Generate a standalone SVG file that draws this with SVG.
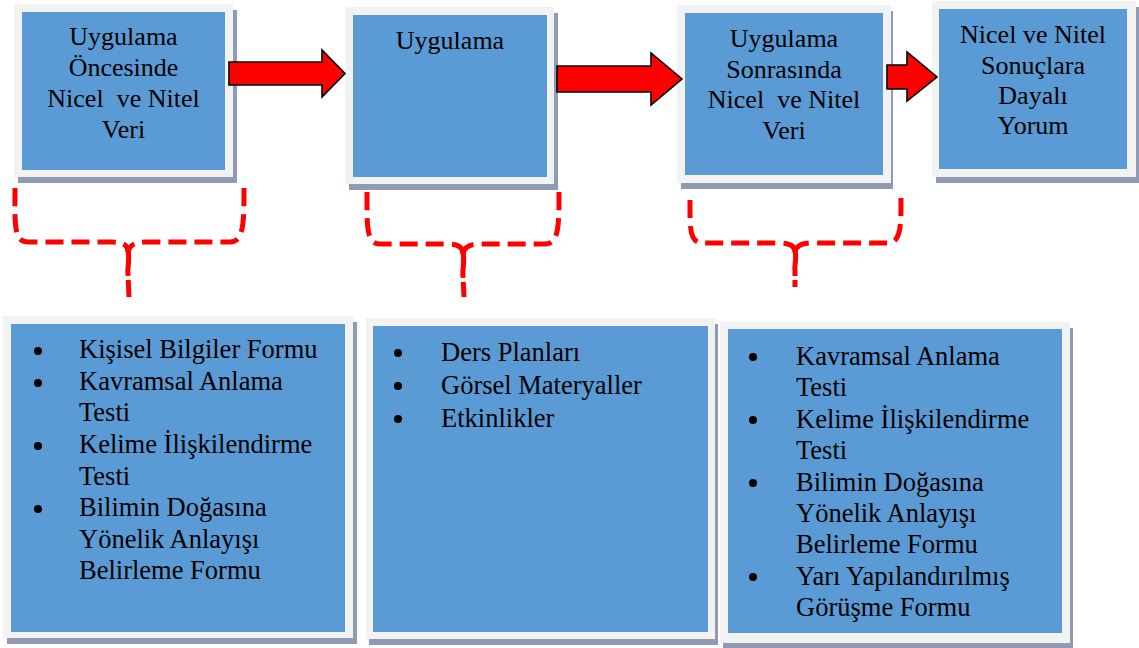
<svg xmlns="http://www.w3.org/2000/svg" width="1139" height="648" viewBox="0 0 1139 648">
  <style>
    .shadow { fill: #8e9bb3; }
    .frame { fill: #f2f2f2; }
    .panel { fill: #5b9bd5; }
    .label { font-family: "Liberation Serif", "Times New Roman", serif; font-size: 26px; fill: #000; }
    .item { font-size: 26.5px; }
    .mid { text-anchor: middle; }
    .arrow { fill: #ff0000; stroke: #000; stroke-width: 1.6; stroke-linejoin: miter; }
    .brace { fill: none; stroke: #ff0000; stroke-width: 5; stroke-dasharray: 18 8; }
    .stem { fill: none; stroke: #ff0000; stroke-width: 5; stroke-dasharray: 26 4; }
    .dot { fill: #000; }
  </style>
  <rect width="1139" height="648" fill="#ffffff"/>

  <!-- top row stages -->
  <g id="stage-pre">
    <rect class="shadow" x="18" y="10" width="219" height="173"/>
    <rect class="frame" x="14" y="4" width="219" height="173"/>
    <rect class="panel" x="22" y="12" width="203" height="158"/>
    <text class="label mid" x="123.5" y="45">Uygulama</text>
    <text class="label mid" x="123.5" y="76">Öncesinde</text>
    <text class="label mid" x="123.5" y="107" xml:space="preserve">Nicel  ve Nitel</text>
    <text class="label mid" x="123.5" y="138">Veri</text>
  </g>

  <g id="stage-app">
    <rect class="shadow" x="349" y="13" width="209" height="177"/>
    <rect class="frame" x="345" y="7" width="209" height="177"/>
    <rect class="panel" x="353" y="15" width="194" height="162"/>
    <text class="label mid" x="450" y="49">Uygulama</text>
  </g>

  <g id="stage-post">
    <rect class="shadow" x="681" y="11" width="212" height="178"/>
    <rect class="frame" x="677" y="5" width="214" height="178"/>
    <rect class="panel" x="685" y="13" width="198" height="162"/>
    <text class="label mid" x="784" y="47">Uygulama</text>
    <text class="label mid" x="784" y="78">Sonrasında</text>
    <text class="label mid" x="784" y="108" xml:space="preserve">Nicel  ve Nitel</text>
    <text class="label mid" x="784" y="139">Veri</text>
  </g>

  <g id="stage-result">
    <rect class="shadow" x="936" y="7" width="204" height="176"/>
    <rect class="frame" x="932" y="1" width="204" height="176"/>
    <rect class="panel" x="939" y="9" width="188" height="160"/>
    <text class="label mid" x="1033" y="43">Nicel ve Nitel</text>
    <text class="label mid" x="1033" y="74">Sonuçlara</text>
    <text class="label mid" x="1033" y="104">Dayalı</text>
    <text class="label mid" x="1033" y="134">Yorum</text>
  </g>

  <!-- bottom row instrument lists -->
  <g id="list-pre">
    <rect class="shadow" x="7" y="322" width="350" height="322"/>
    <rect class="frame" x="3" y="316" width="350" height="322"/>
    <rect class="panel" x="11" y="324" width="334" height="308"/>
    <circle class="dot" cx="38" cy="351" r="4"/>
    <circle class="dot" cx="38" cy="383" r="4"/>
    <circle class="dot" cx="38" cy="446" r="4"/>
    <circle class="dot" cx="38" cy="509" r="4"/>
    <text class="label item" x="79" y="358">Kişisel Bilgiler Formu</text>
    <text class="label item" x="79" y="390">Kavramsal Anlama</text>
    <text class="label item" x="79" y="421">Testi</text>
    <text class="label item" x="79" y="453">Kelime İlişkilendirme</text>
    <text class="label item" x="79" y="485">Testi</text>
    <text class="label item" x="79" y="516">Bilimin Doğasına</text>
    <text class="label item" x="79" y="548">Yönelik Anlayışı</text>
    <text class="label item" x="79" y="579">Belirleme Formu</text>
  </g>

  <g id="list-app">
    <rect class="shadow" x="369" y="324" width="349" height="321"/>
    <rect class="frame" x="366" y="318" width="349" height="321"/>
    <rect class="panel" x="373" y="326" width="335" height="306"/>
    <circle class="dot" cx="398" cy="353" r="4"/>
    <circle class="dot" cx="398" cy="386" r="4"/>
    <circle class="dot" cx="398" cy="419" r="4"/>
    <text class="label item" x="441" y="361">Ders Planları</text>
    <text class="label item" x="441" y="394">Görsel Materyaller</text>
    <text class="label item" x="441" y="427">Etkinlikler</text>
  </g>

  <g id="list-post">
    <rect class="shadow" x="723" y="328" width="350" height="320"/>
    <rect class="frame" x="720" y="322" width="350" height="321"/>
    <rect class="panel" x="728" y="329" width="334" height="304"/>
    <circle class="dot" cx="753" cy="357" r="4"/>
    <circle class="dot" cx="753" cy="420" r="4"/>
    <circle class="dot" cx="753" cy="483" r="4"/>
    <circle class="dot" cx="753" cy="577" r="4"/>
    <text class="label item" x="796" y="365">Kavramsal Anlama</text>
    <text class="label item" x="796" y="396">Testi</text>
    <text class="label item" x="796" y="428">Kelime İlişkilendirme</text>
    <text class="label item" x="796" y="459">Testi</text>
    <text class="label item" x="796" y="491">Bilimin Doğasına</text>
    <text class="label item" x="796" y="522">Yönelik Anlayışı</text>
    <text class="label item" x="796" y="553">Belirleme Formu</text>
    <text class="label item" x="796" y="585">Yarı Yapılandırılmış</text>
    <text class="label item" x="796" y="616">Görüşme Formu</text>
  </g>

  <!-- connectors: block arrows between stages, dashed braces down to lists -->
  <g id="connectors">
    <polygon class="arrow" points="229,62 322,62 322,50 345,73.5 322,97 322,85 229,85"/>
    <polygon class="arrow" points="557,66 651,66 651,53 682,79 651,105 651,92 557,92"/>
    <polygon class="arrow" points="887,65 907,65 907,52 937,77 907,101 907,89 887,89"/>

    <path class="brace" d="M15,188 C15,222 13,242 28,242 L112,242 C124,242 128,246 128,252"/>
    <path class="brace" d="M244,188 C244,222 244,242 230,242 L146,242 C134,242 129,246 128,252"/>
    <path class="stem" d="M128,250 C130,262 127,268 128,274 L129,297"/>

    <path class="brace" d="M367,192 C367,226 366,244 380,244 L447,244 C459,244 463,248 463,254"/>
    <path class="brace" d="M559,192 C559,226 559,244 545,244 L480,244 C468,244 464,248 463,254"/>
    <path class="stem" d="M463,252 C465,264 462,270 463,276 L464,297"/>

    <path class="brace" d="M690,200 C690,228 689,243 703,243 L779,243 C791,243 795,247 795,252"/>
    <path class="brace" d="M901,198 C901,228 901,243 887,243 L812,243 C800,243 796,247 795,252"/>
    <path class="stem" d="M795,250 C797,260 794,266 795,270 L795,287"/>
  </g>
</svg>
